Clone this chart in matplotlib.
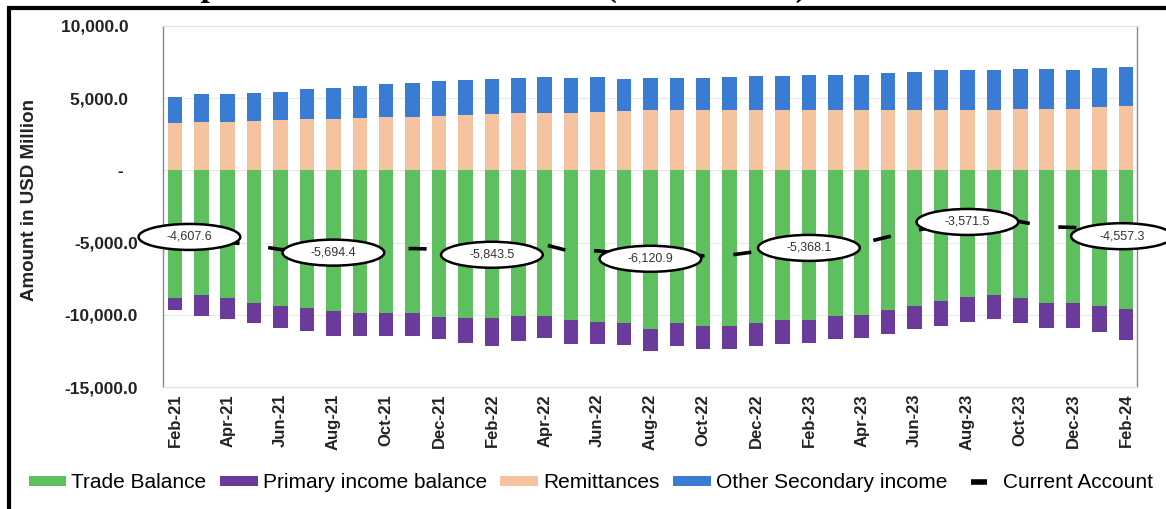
import matplotlib
matplotlib.use("Agg")
import matplotlib.pyplot as plt
import numpy as np
from matplotlib.patches import Ellipse, Rectangle, Patch
from matplotlib.lines import Line2D
from matplotlib.ticker import FuncFormatter

# Monthly balance of payments components, USD million
months = ["Feb-21", "Mar-21", "Apr-21", "May-21", "Jun-21", "Jul-21", "Aug-21",
          "Sep-21", "Oct-21", "Nov-21", "Dec-21", "Jan-22", "Feb-22", "Mar-22",
          "Apr-22", "May-22", "Jun-22", "Jul-22", "Aug-22", "Sep-22", "Oct-22",
          "Nov-22", "Dec-22", "Jan-23", "Feb-23", "Mar-23", "Apr-23", "May-23",
          "Jun-23", "Jul-23", "Aug-23", "Sep-23", "Oct-23", "Nov-23", "Dec-23",
          "Jan-24", "Feb-24"]

trade_balance = [-8870, -8660, -8830, -9150, -9360, -9510, -9740, -9890, -9890,
                 -9890, -10150, -10210, -10250, -10060, -10110, -10360, -10530,
                 -10580, -10950, -10580, -10790, -10790, -10580, -10360, -10330,
                 -10110, -10000, -9680, -9360, -9040, -8790, -8660, -8870, -9150,
                 -9150, -9360, -9600]

primary_income = [-828, -1450, -1450, -1430, -1550, -1620, -1694, -1560, -1560,
                  -1600, -1510, -1750, -1904, -1750, -1530, -1660, -1490, -1490,
                  -1591, -1550, -1550, -1550, -1550, -1660, -1638, -1590, -1640,
                  -1660, -1640, -1750, -1712, -1660, -1700, -1770, -1770, -1850,
                  -2117]

remittances = [3300, 3350, 3350, 3420, 3490, 3540, 3590, 3660, 3730, 3700, 3770,
               3820, 3890, 4000, 4000, 4000, 4050, 4100, 4150, 4150, 4150, 4150,
               4150, 4160, 4160, 4160, 4170, 4170, 4180, 4180, 4190, 4200, 4270,
               4270, 4280, 4380, 4430]

other_secondary = [1790, 1920, 1970, 1970, 1940, 2080, 2150, 2190, 2240, 2380,
                   2430, 2420, 2420, 2430, 2500, 2400, 2400, 2200, 2270, 2270,
                   2270, 2320, 2360, 2400, 2440, 2440, 2430, 2570, 2660, 2750,
                   2740, 2770, 2750, 2750, 2690, 2730, 2730]

current_account = [-4607.6, -4840, -4960, -5190, -5480, -5510, -5694.4, -5600,
                   -5480, -5410, -5460, -5720, -5843.5, -5380, -5140, -5620,
                   -5570, -5770, -6120.9, -5710, -5920, -5870, -5620, -5460,
                   -5368.1, -5100, -5040, -4600, -4160, -3860, -3571.5, -3350,
                   -3550, -3900, -3950, -4100, -4557.3]

labelled_months = ["Feb-21", "Aug-21", "Feb-22", "Aug-22", "Feb-23", "Aug-23", "Feb-24"]
tick_months = months[::2]

GREEN = "#5dbf5e"
PURPLE = "#6a3b9b"
PEACH = "#f6c3a0"
BLUE = "#3a7bd3"

W, H = 1166, 509
fig = plt.figure(figsize=(W / 100, H / 100), dpi=100)
ax = fig.add_axes([163 / W, 1 - 387 / H, (1137 - 163) / W, (387 - 26) / H])

x = np.arange(len(months))
bw = 0.55
ax.bar(x, trade_balance, bw, color=GREEN, zorder=2)
ax.bar(x, primary_income, bw, bottom=trade_balance, color=PURPLE, zorder=2)
ax.bar(x, remittances, bw, color=PEACH, zorder=2)
ax.bar(x, other_secondary, bw, bottom=remittances, color=BLUE, zorder=2)

# current account line, dashed, on top of the bars
ax.plot(x, current_account, color="black", lw=2.6, dashes=(5, 8),
        zorder=3, dash_capstyle="butt")

# oval value callouts
for m in labelled_months:
    i = months.index(m)
    v = current_account[i]
    cx = i + (0.55 if i == 0 else (-0.15 if i == len(months) - 1 else 0))
    ax.add_patch(Ellipse((cx, v), width=3.85, height=1800, facecolor="white",
                         edgecolor="black", lw=1.8, zorder=4, clip_on=False))
    ax.text(cx, v, f"{v:,.1f}", ha="center", va="center", fontsize=9,
            color="#333333", zorder=5, family="Liberation Sans")

ax.set_xlim(-0.45, 36.42)
ax.set_ylim(-15000, 10000)
ax.set_yticks(np.arange(-15000, 10001, 5000))


def yfmt(v, pos):
    if v == 0:
        return "-   "
    if v > 0:
        return f"{v:,.1f}  "
    return f"{v:,.1f}"


ax.yaxis.set_major_formatter(FuncFormatter(yfmt))
ax.set_xticks(x[::2])
ax.set_xticklabels(tick_months, rotation=90, fontsize=12, fontweight="bold",
                   family="Liberation Sans", color="#222222")
for t in ax.get_yticklabels():
    t.set_fontsize(12.5)
    t.set_fontweight("bold")
    t.set_family("Liberation Sans")
    t.set_color("#222222")
ax.tick_params(axis="both", length=0)
ax.tick_params(axis="y", pad=18)
ax.tick_params(axis="x", pad=5)

ax.grid(axis="y", color="#e8e8e8", lw=0.8, zorder=0)
ax.set_axisbelow(True)
for s in ("left", "right"):
    ax.spines[s].set_color("#8a8a8a")
    ax.spines[s].set_linewidth(1.0)
for s in ("top", "bottom"):
    ax.spines[s].set_color("#e2e2e2")
    ax.spines[s].set_linewidth(0.8)

fig.text(30 / W, 1 - 200 / H, "Amount in USD Million", rotation=90, ha="center",
         va="center", fontsize=13.5, fontweight="bold", family="Liberation Sans",
         color="#222222")

handles = [Patch(facecolor=GREEN), Patch(facecolor=PURPLE), Patch(facecolor=PEACH),
           Patch(facecolor=BLUE),
           Line2D([], [], color="black", marker="_", markersize=11, mew=4,
                  linestyle="none")]
labels = ["Trade Balance", "Primary income balance", "Remittances",
          "Other Secondary income", "Current Account"]
fig.legend(handles, labels, loc="center", bbox_to_anchor=(591 / W, 1 - 483 / H),
           ncol=5, frameon=False, handlelength=1.8, handleheight=0.3,
           handletextpad=0.25, columnspacing=0.65,
           prop={"family": "Liberation Sans", "size": 15})

# surrounding frame and the caption sitting above it
fig.add_artist(Rectangle((9 / W, -0.2), 1.2, 1.2 - 8 / H, transform=fig.transFigure,
                         fill=False, edgecolor="black", lw=3))
fig.text(132 / W, 1 + 4 / H, "Components of Current Account (USD Million)",
         ha="left", va="baseline", fontsize=24, fontweight="bold",
         family="Liberation Serif", color="black")

fig.savefig("out.png", dpi=100)
